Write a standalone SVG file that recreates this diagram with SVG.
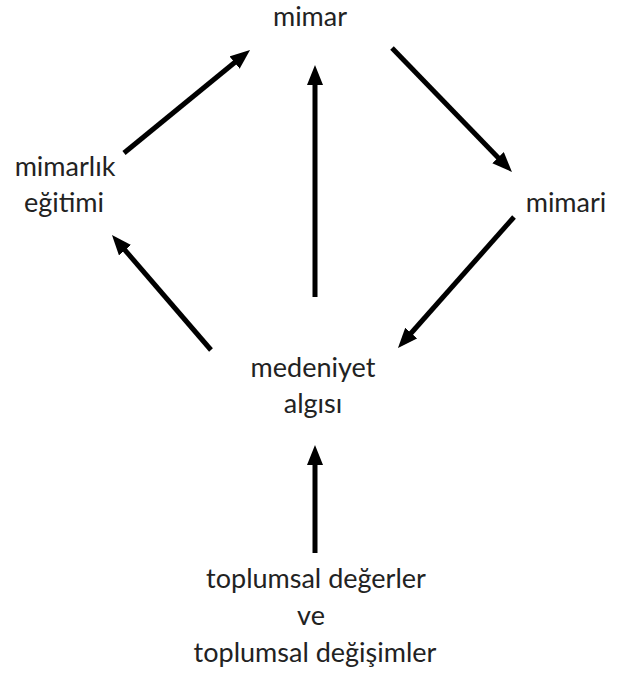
<svg xmlns="http://www.w3.org/2000/svg" width="617" height="673" viewBox="0 0 617 673">
<style>
text{font-family:Lato,"Open Sans",sans-serif;font-size:27px;fill:#222;text-anchor:middle}
.c{stroke:#000;stroke-width:5;fill:none;marker-end:url(#ah)}
</style>
<defs>
<marker id="ah" markerUnits="userSpaceOnUse" markerWidth="22" markerHeight="18" refX="10" refY="8" orient="auto">
<path d="M0,0 L20,8 L0,16 z" fill="#000"/>
</marker>
</defs>
<rect width="617" height="673" fill="#fff"/>
<g id="connectors">
<line class="c" x1="124" y1="153" x2="242.3" y2="56.3"/>
<line class="c" x1="315" y1="297" x2="315" y2="75"/>
<line class="c" x1="392" y1="48" x2="505" y2="164.8"/>
<line class="c" x1="514" y1="217" x2="404.6" y2="340.5"/>
<line class="c" x1="211" y1="350" x2="118.5" y2="242.6"/>
<line class="c" x1="315" y1="553" x2="315" y2="455"/>
</g>
<g id="mimar"><text x="310" y="26">mimar</text></g>
<g id="mimarlik"><text x="65" y="176">mimarlık</text><text x="64" y="212">eğitimi</text></g>
<g id="mimari"><text x="566" y="212">mimari</text></g>
<g id="medeniyet"><text x="313" y="377">medeniyet</text><text x="313" y="413">algısı</text></g>
<g id="toplumsal"><text x="316" y="588">toplumsal değerler</text><text x="311" y="625">ve</text><text x="315" y="662">toplumsal değişimler</text></g>
</svg>
